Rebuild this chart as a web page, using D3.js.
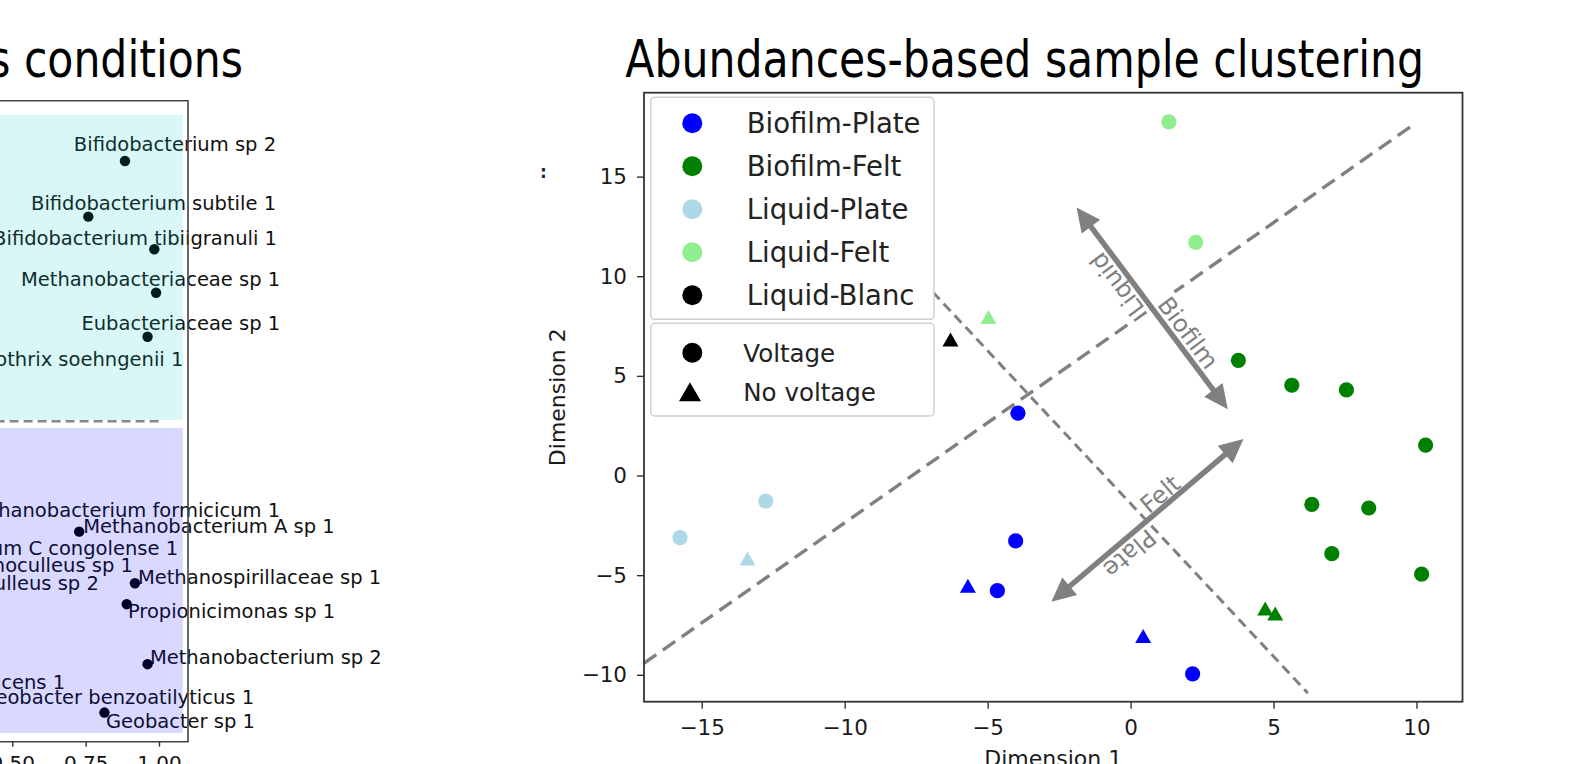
<!DOCTYPE html>
<html>
<head>
<meta charset="utf-8">
<script src="https://cdn.jsdelivr.net/npm/d3@7"></script>
<style>
  body { margin: 0; background: #fff; }
  svg { display: block; }
  text { font-family: "DejaVu Sans", sans-serif; }
</style>
</head>
<body>
<svg id="chart" width="1589" height="764"></svg>
<script>
// ---- right panel: sample clustering ----
const groups = ["Biofilm-Plate", "Biofilm-Felt", "Liquid-Plate", "Liquid-Felt", "Liquid-Blanc"];
const groupColors = ["#0000ff", "#008000", "#add8e6", "#90ee90", "#000000"];
const voltageLabels = ["Voltage", "No voltage"];

const sampleGroup = [
  "Liquid-Plate", "Liquid-Plate", "Liquid-Plate",
  "Liquid-Felt", "Liquid-Felt", "Liquid-Felt",
  "Liquid-Blanc",
  "Biofilm-Felt", "Biofilm-Felt", "Biofilm-Felt", "Biofilm-Felt", "Biofilm-Felt",
  "Biofilm-Felt", "Biofilm-Felt", "Biofilm-Felt", "Biofilm-Felt", "Biofilm-Felt",
  "Biofilm-Plate", "Biofilm-Plate", "Biofilm-Plate", "Biofilm-Plate", "Biofilm-Plate", "Biofilm-Plate"
];
const sampleDim1 = [
  -15.76, -12.76, -13.40,
  1.34, 2.28, -4.97,
  -6.30,
  3.77, 5.64, 7.55, 10.32, 6.34,
  8.33, 7.04, 10.18, 4.71, 5.06,
  -3.94, -4.02, -4.66, -5.69, 0.44, 2.17
];
const sampleDim2 = [
  -3.12, -1.28, -4.17,
  17.75, 11.70, 7.95,
  6.83,
  5.78, 4.53, 4.30, 1.53, -1.45,
  -1.63, -3.92, -4.95, -6.67, -6.92,
  3.13, -3.28, -5.78, -5.53, -8.05, -9.95
];
const sampleVoltage = [
  "Voltage", "Voltage", "No voltage",
  "Voltage", "Voltage", "No voltage",
  "No voltage",
  "Voltage", "Voltage", "Voltage", "Voltage", "Voltage",
  "Voltage", "Voltage", "Voltage", "No voltage", "No voltage",
  "Voltage", "Voltage", "Voltage", "No voltage", "No voltage", "Voltage"
];

const xTicks = [-15, -10, -5, 0, 5, 10];
const yTicks = [-10, -5, 0, 5, 10, 15];

// dashed separating lines [x1, y1, x2, y2]
const boundaryA = [-17.02, -9.42, 9.93, 17.64];
const boundaryB = [-6.92, 9.21, 6.2, -10.92];
// double arrows
const arrowA = [-1.89, 13.45, 3.40, 3.33];
const arrowB = [-2.77, -6.33, 3.95, 1.83];
const arrowLabels = ["Liquid", "Biofilm", "Felt", "Plate"];
const arrowLabelX = [-0.49, 2.02, 1.03, -0.02];
const arrowLabelY = [9.58, 7.17, -0.92, -3.92];

// ---- left panel (cropped): species positions ----
const speciesNames = [
  "Bifidobacterium sp 2", "Bifidobacterium subtile 1", "Bifidobacterium tibiigranuli 1",
  "Methanobacteriaceae sp 1", "Eubacteriaceae sp 1",
  "Methanobacterium A sp 1", "Methanospirillaceae sp 1", "Propionicimonas sp 1",
  "Methanobacterium sp 2", "Geobacter sp 1"
];
const speciesX = [0.884, 0.759, 0.984, 0.990, 0.961, 0.728, 0.918, 0.890, 0.961, 0.814];
const speciesY = [0.893, 0.702, 0.590, 0.441, 0.290, -0.379, -0.556, -0.628, -0.834, -1.000];

const labelText = [
  "Bifidobacterium sp 2", "Bifidobacterium subtile 1", "Bifidobacterium tibiigranuli 1",
  "Methanobacteriaceae sp 1", "Eubacteriaceae sp 1", "Methanothrix soehngenii 1",
  "Methanobacterium formicicum 1", "Methanobacterium A sp 1", "Methanobacterium C congolense 1",
  "Methanoculleus sp 1", "Methanoculleus sp 2", "Methanospirillaceae sp 1",
  "Propionicimonas sp 1", "Methanobacterium sp 2", "Geobacter sulfurreducens 1",
  "Geobacter benzoatilyticus 1", "Geobacter sp 1"
];
const labelX = [1.399, 1.399, 1.402, 1.413, 1.413, 1.083, 1.413, 0.742, 1.065,
                0.911, 0.795, 0.928, 0.894, 0.969, 0.680, 1.324, 0.819];
const labelY = [0.951, 0.750, 0.630, 0.487, 0.338, 0.212, -0.305, -0.360, -0.434,
                -0.493, -0.556, -0.534, -0.650, -0.810, -0.894, -0.945, -1.029];
const labelAnchor = ["end", "end", "end", "end", "end", "end", "end", "start", "end",
                     "end", "end", "start", "start", "start", "end", "end", "start"];
const leftTicks = [0.5, 0.75, 1.0];

const svg = d3.select("#chart");

// ================= left panel =================
const xL = d3.scaleLinear().domain([0.5, 1.0]).range([12.3, 159]);
const yL = d3.scaleLinear().domain([-1.1, 1.1]).range([741.7, 100.7]);
const left = svg.append("g");

left.selectAll(".lab").data(labelText).enter().append("text")
  .attr("x", (d, i) => xL(labelX[i]))
  .attr("y", (d, i) => yL(labelY[i]))
  .attr("dy", "0.36em")
  .attr("text-anchor", (d, i) => labelAnchor[i])
  .attr("font-size", "19.5px")
  .attr("fill", "#111")
  .text(d => d);

left.selectAll(".sp").data(speciesNames).enter().append("circle")
  .attr("cx", (d, i) => xL(speciesX[i]))
  .attr("cy", (d, i) => yL(speciesY[i]))
  .attr("r", 5.2)
  .attr("fill", "#000");

// shaded regions above/below the split
left.append("rect")
  .attr("x", xL(0.3)).attr("width", xL(1.081) - xL(0.3))
  .attr("y", yL(1.051)).attr("height", yL(0.004) - yL(1.051))
  .attr("fill", "#00c8c0").attr("fill-opacity", 0.15);
left.append("rect")
  .attr("x", xL(0.3)).attr("width", xL(1.081) - xL(0.3))
  .attr("y", yL(-0.023)).attr("height", yL(-1.07) - yL(-0.023))
  .attr("fill", "#0000ff").attr("fill-opacity", 0.15);

left.append("line")
  .attr("x1", xL(0.3)).attr("x2", xL(1.0))
  .attr("y1", yL(0)).attr("y2", yL(0))
  .attr("stroke", "#888").attr("stroke-width", 2.5).attr("stroke-dasharray", "9,5");

// spines
left.append("path")
  .attr("d", "M0," + yL.range()[1] + "H188V" + yL.range()[0] + "H0")
  .attr("fill", "none").attr("stroke", "#444").attr("stroke-width", 1.6);

const leftAxis = left.append("g")
  .attr("transform", "translate(0," + yL.range()[0] + ")")
  .call(d3.axisBottom(xL).tickValues(leftTicks).tickFormat(d3.format(".2f")).tickSize(5).tickPadding(9));
leftAxis.select(".domain").remove();
leftAxis.selectAll("line").attr("stroke", "#333").attr("stroke-width", 1.4);
leftAxis.selectAll("text").attr("font-size", "20px").attr("fill", "#111")
  .attr("font-family", "DejaVu Sans");

// titles
const titleR = svg.append("text")
  .attr("x", 1424).attr("y", 77)
  .attr("text-anchor", "end")
  .attr("font-family", "Lato, sans-serif")
  .attr("font-size", "52px")
  .attr("fill", "#000")
  .text("Abundances-based sample clustering");
const natural = titleR.node().getComputedTextLength();
const sx = 799 / natural;
titleR.attr("transform", "translate(1424,77) scale(" + sx + ",1) translate(-1424,-77)");

svg.append("text")
  .attr("x", 243).attr("y", 77)
  .attr("text-anchor", "end")
  .attr("font-family", "Lato, sans-serif")
  .attr("font-size", "52px")
  .attr("fill", "#000")
  .attr("transform", "translate(243,77) scale(" + sx + ",1) translate(-243,-77)")
  .text("Key species under various conditions");

// small artefact left of the right panel
svg.append("text")
  .attr("x", 540).attr("y", 178)
  .attr("font-size", "17px").attr("font-weight", "bold")
  .attr("fill", "#1a1a50")
  .text(":");

// ================= right panel =================
const x = d3.scaleLinear().domain([-17.02, 11.61]).range([644, 1462.5]);
const y = d3.scaleLinear().domain([-11.35, 19.21]).range([701.7, 92.7]);
const color = d3.scaleOrdinal().domain(groups).range(groupColors);
const plot = svg.append("g");

function triPath(w, h) {
  return "M0," + (-h / 2) + "L" + (w / 2) + "," + (h / 2) + "L" + (-w / 2) + "," + (h / 2) + "Z";
}

// dashed boundaries
plot.append("line")
  .attr("x1", x(boundaryA[0])).attr("y1", y(boundaryA[1]))
  .attr("x2", x(boundaryA[2])).attr("y2", y(boundaryA[3]))
  .attr("stroke", "#808080").attr("stroke-width", 3.4).attr("stroke-dasharray", "15,8");
plot.append("line")
  .attr("x1", x(boundaryB[0])).attr("y1", y(boundaryB[1]))
  .attr("x2", x(boundaryB[2])).attr("y2", y(boundaryB[3]))
  .attr("stroke", "#808080").attr("stroke-width", 3).attr("stroke-dasharray", "10,6");

// arrow labels with white boxes
const angA = Math.atan2(y(arrowA[3]) - y(arrowA[1]), x(arrowA[2]) - x(arrowA[0])) * 180 / Math.PI;
const angB = Math.atan2(y(arrowB[3]) - y(arrowB[1]), x(arrowB[2]) - x(arrowB[0])) * 180 / Math.PI;
const labelAngles = [angA + 180, angA, angB, angB + 180];

arrowLabels.forEach(function (t, i) {
  const g = plot.append("g")
    .attr("transform", "translate(" + x(arrowLabelX[i]) + "," + y(arrowLabelY[i]) + ") rotate(" + labelAngles[i] + ")");
  const bg = g.append("rect").attr("fill", "#fff");
  const tx = g.append("text")
    .attr("text-anchor", "middle")
    .attr("dy", "0.36em")
    .attr("font-size", "24px")
    .attr("fill", "#808080")
    .text(t);
  const bb = tx.node().getBBox();
  bg.attr("x", bb.x - 2).attr("y", bb.y).attr("width", bb.width + 4).attr("height", bb.height);
});

// double-headed arrows
function drawArrow(a) {
  const x1 = x(a[0]), y1 = y(a[1]), x2 = x(a[2]), y2 = y(a[3]);
  const len = Math.hypot(x2 - x1, y2 - y1);
  const ux = (x2 - x1) / len, uy = (y2 - y1) / len;
  const px = -uy, py = ux;
  const L = 24, W = 11.5;
  plot.append("line")
    .attr("x1", x1 + ux * L * 0.8).attr("y1", y1 + uy * L * 0.8)
    .attr("x2", x2 - ux * L * 0.8).attr("y2", y2 - uy * L * 0.8)
    .attr("stroke", "#808080").attr("stroke-width", 5.5);
  [[x1, y1, 1], [x2, y2, -1]].forEach(function (e) {
    const bx = e[0] + e[2] * ux * L, by = e[1] + e[2] * uy * L;
    plot.append("path")
      .attr("d", "M" + e[0] + "," + e[1] + "L" + (bx + px * W) + "," + (by + py * W) +
        "L" + (bx - px * W) + "," + (by - py * W) + "Z")
      .attr("fill", "#808080");
  });
}
drawArrow(arrowA);
drawArrow(arrowB);

// samples
plot.selectAll(".pt").data(sampleGroup).enter().append("path")
  .attr("transform", (d, i) => "translate(" + x(sampleDim1[i]) + "," + y(sampleDim2[i]) + ")")
  .attr("d", (d, i) => sampleVoltage[i] === "Voltage"
    ? d3.symbol().type(d3.symbolCircle).size(Math.PI * 7.6 * 7.6)()
    : triPath(16, 14))
  .attr("fill", d => color(d));

// axes
const xAxis = plot.append("g")
  .attr("transform", "translate(0," + y.range()[0] + ")")
  .call(d3.axisBottom(x).tickValues(xTicks).tickFormat(d3.format("d")).tickSize(7).tickPadding(11));
const yAxis = plot.append("g")
  .attr("transform", "translate(" + x.range()[0] + ",0)")
  .call(d3.axisLeft(y).tickValues(yTicks).tickFormat(d3.format("d")).tickSize(7).tickPadding(10));
[xAxis, yAxis].forEach(function (ax) {
  ax.select(".domain").remove();
  ax.selectAll("line").attr("stroke", "#333").attr("stroke-width", 1.4);
  ax.selectAll("text").attr("font-size", "21.5px").attr("fill", "#1a1a1a")
    .attr("font-family", "DejaVu Sans");
});

plot.append("rect")
  .attr("x", x.range()[0]).attr("y", y.range()[1])
  .attr("width", x.range()[1] - x.range()[0])
  .attr("height", y.range()[0] - y.range()[1])
  .attr("fill", "none").attr("stroke", "#333").attr("stroke-width", 1.8);

plot.append("text")
  .attr("transform", "translate(557," + ((y.range()[0] + y.range()[1]) / 2) + ") rotate(-90)")
  .attr("text-anchor", "middle").attr("dy", "0.36em")
  .attr("font-size", "22px").attr("fill", "#1a1a1a")
  .text("Dimension 2");
plot.append("text")
  .attr("x", (x.range()[0] + x.range()[1]) / 2).attr("y", 766)
  .attr("text-anchor", "middle")
  .attr("font-size", "22px").attr("fill", "#1a1a1a")
  .text("Dimension 1");

// legends
const leg1 = plot.append("g");
leg1.append("rect")
  .attr("x", 650.7).attr("y", 97.3).attr("width", 283.3).attr("height", 222)
  .attr("rx", 4).attr("fill", "#fff").attr("fill-opacity", 0.9)
  .attr("stroke", "#d0d0d0").attr("stroke-width", 1.5);
groups.forEach(function (g, i) {
  const cy = 123.3 + i * 43;
  leg1.append("circle").attr("cx", 692.3).attr("cy", cy).attr("r", 10).attr("fill", color(g));
  leg1.append("text").attr("x", 746.7).attr("y", cy).attr("dy", "0.36em")
    .attr("font-size", "27.5px").attr("fill", "#222").text(g);
});

const leg2 = plot.append("g");
leg2.append("rect")
  .attr("x", 650.7).attr("y", 323.3).attr("width", 283.3).attr("height", 92.7)
  .attr("rx", 4).attr("fill", "#fff").attr("fill-opacity", 0.9)
  .attr("stroke", "#d0d0d0").attr("stroke-width", 1.5);
voltageLabels.forEach(function (v, i) {
  const cy = 352.7 + i * 39;
  if (i === 0) {
    leg2.append("circle").attr("cx", 692.3).attr("cy", cy).attr("r", 10).attr("fill", "#000");
  } else {
    leg2.append("path").attr("transform", "translate(690," + cy + ")")
      .attr("d", triPath(22, 19)).attr("fill", "#000");
  }
  leg2.append("text").attr("x", 743.3).attr("y", cy).attr("dy", "0.36em")
    .attr("font-size", "24.5px").attr("fill", "#222").text(v);
});
</script>
</body>
</html>
